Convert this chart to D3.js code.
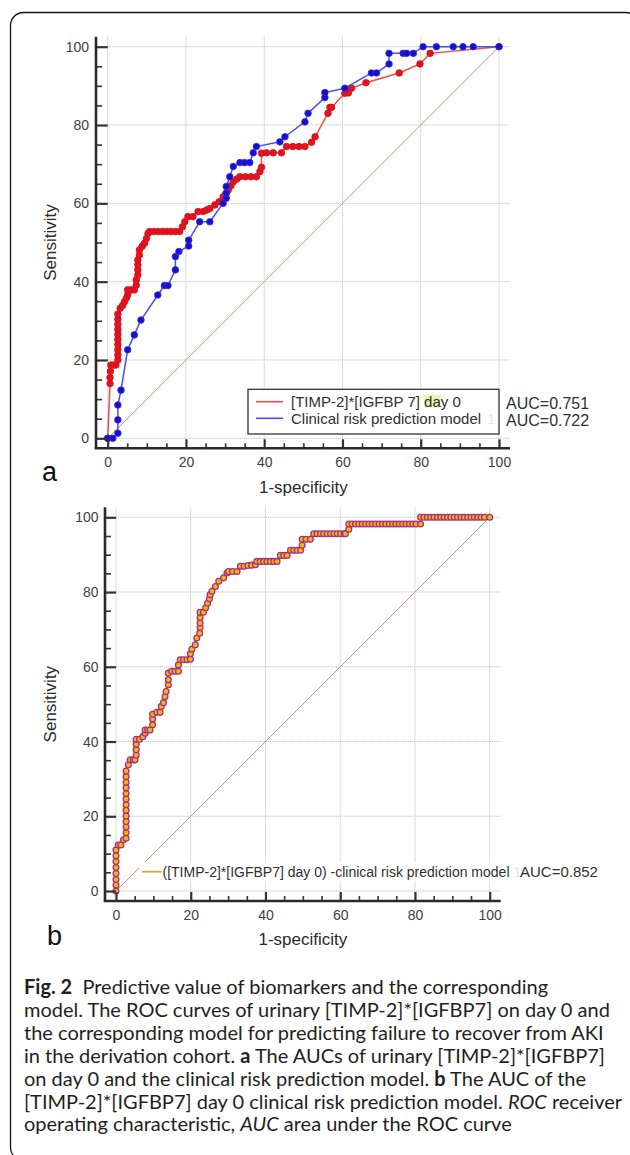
<!DOCTYPE html>
<html>
<head>
<meta charset="utf-8">
<script src="https://cdn.jsdelivr.net/npm/d3@7"></script>
<style>
  body { margin: 0; background: #fff; }
  svg { display: block; }
</style>
</head>
<body>
<svg id="fig" width="630" height="1155"></svg>
<script>
// --- Data ---
const majorTicks = [0, 20, 40, 60, 80, 100];
const minorTicks = [5, 10, 15, 25, 30, 35, 45, 50, 55, 65, 70, 75, 85, 90, 95];
const diagonal = [[0, 0], [100, 100]];

// panel a: [1-specificity, sensitivity]
const timpDay0 = [
  [0,0],[0.6,14],[0.6,15.5],[0.7,17.1],[0.8,18.7],[1.5,18.7],[2.1,18.7],[2.6,20],[2.6,21.3],[2.6,22.6],
  [2.6,23.9],[2.6,25.2],[2.6,26.5],[2.6,27.8],[2.6,29.1],[2.6,30.4],[2.6,31.7],[3.2,33.2],[3.8,33.9],[4.3,34.9],
  [4.8,35.8],[5.1,36.6],[5.1,37.9],[6,37.9],[6.8,37.9],[7.3,39.1],[7.3,40.4],[7.7,41.7],[7.7,43],[7.7,44.3],
  [7.7,45.5],[8.1,46.8],[8.1,48.1],[8.8,49],[9.4,49.8],[9.9,51],[10.3,52.3],[10.7,52.8],[11.8,52.8],[12.9,52.8],
  [14,52.8],[15.1,52.8],[16.2,52.8],[17.3,52.8],[18.4,52.8],[19.1,54],[19.7,55.3],[20.5,56.6],[21.8,56.6],[23.1,57.9],
  [24.4,57.9],[25.3,58.3],[26.1,58.7],[27.4,59.6],[28.5,60.4],[29.5,61.7],[30.2,62.5],[30.8,63.4],[31.5,64.5],[32.1,65.5],
  [33,66.2],[33.8,66.8],[35.2,66.8],[36.6,66.8],[38,66.8],[38.9,68.1],[39.3,69.2],[39.3,72.8],[40.6,72.9],[42.3,72.9],
  [44.4,72.9],[45.7,74.5],[47.3,74.5],[48.9,74.5],[50.4,74.5],[52.1,75.6],[53,77],[56.3,83],[56.8,84.5],[57.2,84.5],
  [60.6,88.1],[61.5,88.2],[62.3,89.4],[66,90.8],[74.5,93.3],[79.8,95.6],[82.4,98.3],[100,100]
];
const clinicalModel = [
  [0,0],[1.3,0],[2.6,1.3],[2.6,4.7],[2.6,8.5],[3.4,12.3],[5.1,22.6],[6.8,26.4],[8.5,30.2],[12.8,36.6],
  [14.5,39],[15.4,39],[17.3,43],[17.3,46.4],[18.2,47.7],[20.7,49.1],[20.7,50.6],[23.5,55.3],[26.1,55.3],[29.5,60],
  [30.3,61.3],[30.3,62.6],[30.3,64.3],[31.2,66.8],[32.1,69.4],[33.8,70.4],[35,70.4],[36.3,70.4],[37.2,72.9],[38,74.5],
  [44,75.7],[45.3,77],[50.4,80.8],[51.2,83],[55.5,87],[55.5,88.3],[60.6,89.4],[67.4,93.3],[68.7,93.3],[71.9,95.6],
  [71.9,98.3],[75.5,98.3],[76.4,98.3],[78.1,98.3],[80.6,100],[84,100],[88.3,100],[90.8,100],[93.4,100],[100,100]
];
const aLegend = ["[TIMP-2]*[IGFBP 7] day 0", "Clinical risk prediction model"];
const aAuc = ["AUC=0.751", "AUC=0.722"];

// panel b
const combinedModel = [
  [0,0],[0,1.6],[0,3.1],[0,4.7],[0,6.3],[0,7.9],[0,9.4],[0,11],[0.6,12.3],[1.3,12.3],
  [2,13.7],[2.7,14.1],[2.7,15.6],[2.7,17.1],[2.7,18.6],[2.7,20.1],[2.7,21.6],[2.7,23.1],[2.7,24.6],[2.7,26.1],
  [2.7,27.6],[2.7,29.1],[2.7,30.6],[2.7,32.1],[3.3,33.8],[3.8,35.1],[4.6,35.1],[5.1,35.1],[5.4,36.4],[5.4,37.8],
  [5.4,39.3],[5.4,40.6],[6.3,40.6],[7.2,41.3],[7.8,42.2],[7.8,43.1],[8.5,43.1],[9.1,43.1],[9.8,44.5],[9.8,46],
  [9.8,47.3],[10.9,47.8],[11.8,47.8],[12.1,49.4],[12.7,50.4],[13.1,52],[13.4,53.4],[14,55.2],[14,56.5],[14,58.3],
  [14.9,58.8],[15.8,58.8],[16.7,58.8],[16.7,60.5],[17.2,61.9],[18.1,61.9],[19,61.9],[19.9,62],[19.9,63.5],[20.3,64.7],
  [21.2,65.9],[21.6,67.7],[22.4,69],[22.5,70.5],[22.5,71.7],[22.5,73.2],[22.5,74.6],[23.4,74.6],[24,75.8],[24.5,77],
  [25,78.2],[25.2,79.3],[25.7,80.2],[26.6,81.5],[27.5,82.9],[28.8,83.8],[29.7,85.1],[30.1,85.5],[31.2,85.5],[32.4,85.5],
  [33.3,86.9],[34.3,86.9],[35.3,87.1],[36.3,87.2],[37.3,87.3],[37.7,88.2],[38.6,88.2],[39.5,88.2],[40.4,88.2],[41.3,88.2],
  [42.2,88.2],[43.1,88.2],[44,89.8],[44.9,89.8],[45.8,89.8],[46.7,91.2],[47.6,91.2],[48.5,91.2],[49.4,91.2],[49.8,92.5],
  [49.8,94.1],[50.9,94.1],[52,94.1],[52.9,95.6],[53.8,95.6],[54.7,95.6],[55.6,95.6],[56.5,95.6],[57.4,95.6],[58.3,95.6],
  [59.2,95.6],[60.1,95.6],[61,95.6],[61.4,95.6],[62.3,96.8],[62.3,98.2],[63.2,98.2],[64.1,98.2],[65,98.2],[65.9,98.2],
  [66.8,98.2],[67.7,98.2],[68.6,98.2],[69.5,98.2],[70.4,98.2],[71.3,98.2],[72.2,98.2],[73.1,98.2],[74,98.2],[74.9,98.2],
  [75.8,98.2],[76.7,98.2],[77.6,98.2],[78.5,98.2],[79.4,98.2],[80.3,98.2],[81.5,98.2],[81.5,100],[82.4,100],[83.3,100],
  [84.2,100],[85.1,100],[86,100],[86.9,100],[87.8,100],[88.7,100],[89.6,100],[90.5,100],[91.4,100],[92.3,100],
  [93.2,100],[94.1,100],[95,100],[95.9,100],[96.8,100],[97.7,100],[98.6,100],[100,100]
];
const bLegend = "([TIMP-2]*[IGFBP7] day 0) -clinical risk prediction model";
const bAuc = "AUC=0.852";

const caption = [
  [["Fig. 2", "b"], ["  Predictive value of biomarkers and the corresponding"]],
  [["model. The ROC curves of urinary [TIMP-2]*[IGFBP7] on day 0 and"]],
  [["the corresponding model for predicting failure to recover from AKI"]],
  [["in the derivation cohort. "], ["a", "b"], [" The AUCs of urinary [TIMP-2]*[IGFBP7]"]],
  [["on day 0 and the clinical risk prediction model. "], ["b", "b"], [" The AUC of the"]],
  [["[TIMP-2]*[IGFBP7] day 0 clinical risk prediction model. "], ["ROC", "i"], [" receiver"]],
  [["operating characteristic, "], ["AUC", "i"], [" area under the ROC curve"]]
];

const svg = d3.select("#fig");
const axisFont = "'Liberation Sans', Arial, sans-serif";

// outer frame (only top and left edges fall inside the page)
svg.append("rect")
  .attr("x", 10.5).attr("y", 12.5)
  .attr("width", 628).attr("height", 1148)
  .attr("rx", 13)
  .attr("fill", "none").attr("stroke", "#111").attr("stroke-width", 1.3);

function drawPanel(cfg) {
  const x = d3.scaleLinear().domain([0, 100]).range([cfg.left, cfg.right]);
  const y = d3.scaleLinear().domain([0, 100]).range([cfg.bottom, cfg.top]);
  const axX = cfg.left - cfg.gap;      // y axis line
  const axY = cfg.bottom + 10;         // x axis line
  const endX = cfg.right + 11;
  const topY = cfg.top - 10;
  const g = svg.append("g");

  // grid
  const grid = g.append("g").attr("stroke", "#c4c4c4").attr("stroke-width", 1)
    .attr("stroke-dasharray", "1.2,0.8");
  grid.selectAll("line.h").data(majorTicks).join("line").attr("class", "h")
    .attr("x1", x(0)).attr("x2", endX)
    .attr("y1", d => y(d)).attr("y2", d => y(d));
  grid.selectAll("line.v").data(majorTicks).join("line").attr("class", "v")
    .attr("x1", d => x(d)).attr("x2", d => x(d))
    .attr("y1", topY).attr("y2", axY);

  // reference diagonal
  g.append("path").datum(diagonal)
    .attr("d", d3.line().x(d => x(d[0])).y(d => y(d[1])))
    .attr("fill", "none").attr("stroke", "#c29292").attr("stroke-width", 1);

  // legend background
  if (cfg.legendBox) cfg.legendBox(g, x, y);

  // curves
  cfg.series.forEach(s => {
    g.append("path").datum(s.data)
      .attr("d", d3.line().x(d => x(d[0])).y(d => y(d[1])))
      .attr("fill", "none").attr("stroke", s.line).attr("stroke-width", 1.5);
    g.append("g").selectAll("circle").data(s.data).join("circle")
      .attr("cx", d => x(d[0])).attr("cy", d => y(d[1]))
      .attr("r", s.r).attr("fill", s.fill)
      .attr("stroke", s.stroke).attr("stroke-width", s.sw);
  });

  // axes
  const yAxis = g.append("g").attr("transform", `translate(${axX},0)`)
    .call(d3.axisLeft(y).tickValues(majorTicks).tickSizeInner(-(x(0) - axX)).tickSizeOuter(0).tickPadding(cfg.yPad));
  const yMinor = g.append("g").attr("transform", `translate(${axX},0)`)
    .call(d3.axisLeft(y).tickValues(minorTicks).tickSizeInner(-6).tickSizeOuter(0).tickFormat(""));
  const xAxis = g.append("g").attr("transform", `translate(0,${axY})`)
    .call(d3.axisBottom(x).tickValues(majorTicks).tickSizeInner(-9).tickSizeOuter(0).tickPadding(9));
  const xMinor = g.append("g").attr("transform", `translate(0,${axY})`)
    .call(d3.axisBottom(x).tickValues(minorTicks).tickSizeInner(-5).tickSizeOuter(0).tickFormat(""));
  [yAxis, yMinor, xAxis, xMinor].forEach(a => {
    a.select(".domain").remove();
    a.selectAll(".tick line").attr("stroke", "#333").attr("stroke-width", 1.6);
    a.selectAll("text").attr("font-family", axisFont).attr("font-size", 14).attr("fill", "#404040");
  });
  yAxis.selectAll(".tick line").attr("stroke-width", 2.2);
  xAxis.selectAll(".tick line").attr("stroke-width", 2.2);

  g.append("line").attr("x1", axX).attr("x2", axX).attr("y1", topY).attr("y2", axY)
    .attr("stroke", "#2a2a2a").attr("stroke-width", 2.6);
  g.append("line").attr("x1", axX - 1.3).attr("x2", endX).attr("y1", axY).attr("y2", axY)
    .attr("stroke", "#2a2a2a").attr("stroke-width", 2.6);

  // titles
  g.append("text").attr("x", (x(0) + x(100)) / 2).attr("y", cfg.xTitleY)
    .attr("text-anchor", "middle").attr("font-family", axisFont).attr("font-size", 17)
    .attr("fill", "#2a2a2a").text("1-specificity");
  g.append("text")
    .attr("transform", `translate(${cfg.yTitleX},${(y(0) + y(100)) / 2}) rotate(-90)`)
    .attr("text-anchor", "middle").attr("dy", "0.35em")
    .attr("font-family", axisFont).attr("font-size", 17)
    .attr("fill", "#2a2a2a").text("Sensitivity");
  g.append("text").attr("x", cfg.tagX).attr("y", cfg.tagY)
    .attr("font-family", axisFont).attr("font-size", 27).attr("fill", "#111").text(cfg.tag);

  if (cfg.legend) cfg.legend(g, x, y);
}

// --- Panel a ---
drawPanel({
  left: 107.7, right: 499, top: 46.7, bottom: 438.3, gap: 11.7, yPad: 7,
  xTitleY: 493, yTitleX: 50, tag: "a", tagX: 42, tagY: 481,
  series: [
    { data: timpDay0, line: "#f24a4a", fill: "#e5121c", stroke: "#cc1020", sw: 0.8, r: 3.3 },
    { data: clinicalModel, line: "#4b4cf2", fill: "#160fd0", stroke: "#3a30d8", sw: 0.8, r: 3.3 }
  ],
  legendBox: (g) => {
    g.append("rect").attr("x", 248).attr("y", 389.3).attr("width", 251).attr("height", 44.7)
      .attr("fill", "#fff").attr("stroke", "#333").attr("stroke-width", 1.3);
  },
  legend: (g) => {
    const colors = ["#f24a4a", "#4b4cf2"];
    const rows = [401.7, 418.3];
    aLegend.forEach((t, i) => {
      g.append("line").attr("x1", 256).attr("x2", 283).attr("y1", rows[i]).attr("y2", rows[i])
        .attr("stroke", colors[i]).attr("stroke-width", 1.6);
      const txt = g.append("text").attr("x", 291).attr("y", rows[i]).attr("dy", "0.36em")
        .attr("font-family", axisFont).attr("font-size", 15).attr("fill", "#303030").text(t);
      if (i === 0) {
        // faint highlight on "da" as in the source image
        const node = txt.node();
        const k = t.indexOf("day");
        const x0 = 291 + node.getSubStringLength(0, k);
        const w = node.getSubStringLength(k, 2);
        g.insert("rect", () => node).attr("x", x0).attr("y", rows[i] - 7).attr("width", w).attr("height", 13)
          .attr("fill", "#f2efb6");
      } else {
        const w = txt.node().getComputedTextLength();
        g.append("text").attr("x", 291 + w + 6).attr("y", rows[i]).attr("dy", "0.36em")
          .attr("font-family", axisFont).attr("font-size", 15).attr("fill", "#e6e6e6").text("1");
      }
      g.append("text").attr("x", 506).attr("y", rows[i] + 1.5).attr("dy", "0.36em")
        .attr("font-family", axisFont).attr("font-size", 16).attr("fill", "#303030").text(aAuc[i]);
    });
  }
});

// --- Panel b ---
drawPanel({
  left: 116, right: 489.7, top: 517.3, bottom: 891, gap: 11, yPad: 6.5,
  xTitleY: 945, yTitleX: 50, tag: "b", tagX: 47, tagY: 945,
  series: [
    { data: combinedModel, line: "#a03288", fill: "#f8b400", stroke: "#a3308e", sw: 1.3, r: 2.9 }
  ],
  legendBox: (g) => {
    g.append("rect").attr("x", 139).attr("y", 862).attr("width", 378).attr("height", 19)
      .attr("fill", "#fff");
  },
  legend: (g) => {
    const ly = 871.7;
    g.append("line").attr("x1", 141.7).attr("x2", 161.7).attr("y1", ly).attr("y2", ly)
      .attr("stroke", "#f0a030").attr("stroke-width", 1.8);
    const txt = g.append("text").attr("x", 162.5).attr("y", ly).attr("dy", "0.36em")
      .attr("font-family", axisFont).attr("font-size", 14).attr("fill", "#303030").text(bLegend);
    const w = txt.node().getComputedTextLength();
    g.append("text").attr("x", 162.5 + w + 4).attr("y", ly).attr("dy", "0.36em")
      .attr("font-family", axisFont).attr("font-size", 14).attr("fill", "#e6e6e6").text("1");
    g.append("text").attr("x", 520).attr("y", ly).attr("dy", "0.36em")
      .attr("font-family", axisFont).attr("font-size", 15).attr("fill", "#303030").text(bAuc);
  }
});

// --- Caption ---
const cap = svg.append("g").attr("font-family", "Lato, 'Open Sans', sans-serif")
  .attr("font-size", 20).attr("fill", "#231f20");
caption.forEach((line, i) => {
  const t = cap.append("text").attr("x", 24).attr("y", 994 + i * 22.9)
    .attr("xml:space", "preserve").style("white-space", "pre");
  line.forEach(([s, style]) => {
    const ts = t.append("tspan").text(s);
    if (style === "b") ts.attr("font-weight", "bold");
    if (style === "i") ts.attr("font-style", "italic");
  });
});
</script>
</body>
</html>
